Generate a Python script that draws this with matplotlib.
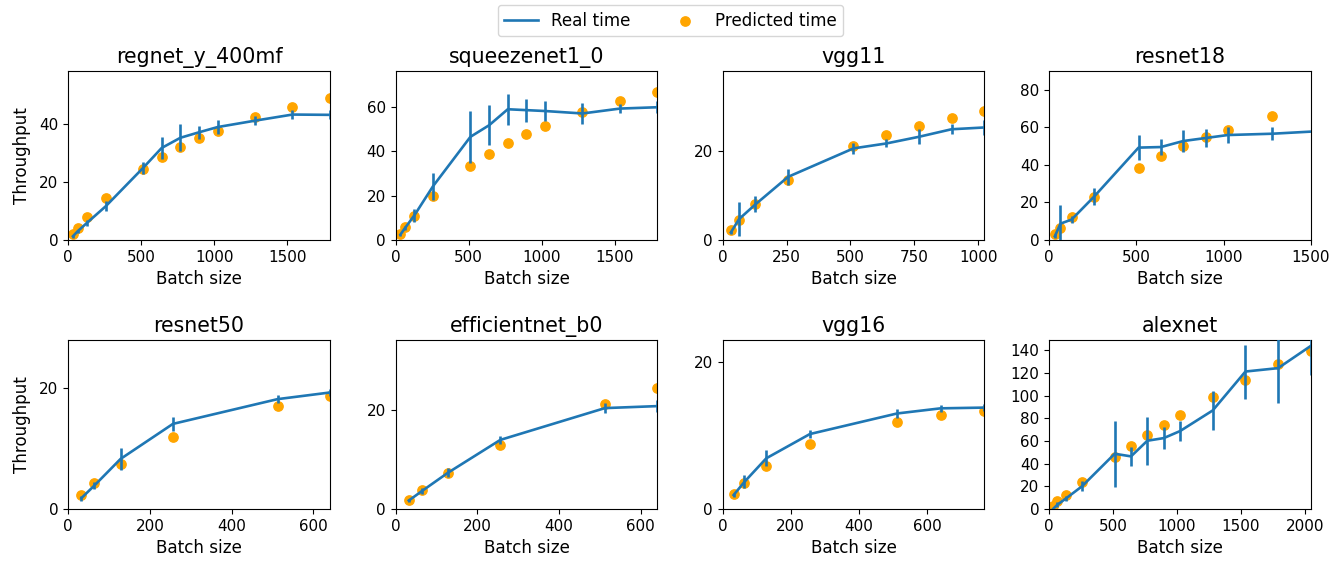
import numpy as np
import matplotlib
matplotlib.use("Agg")
import matplotlib.pyplot as plt
from matplotlib.lines import Line2D

# ---- data ----
models = ["regnet_y_400mf", "squeezenet1_0", "vgg11", "resnet18",
          "resnet50", "efficientnet_b0", "vgg16", "alexnet"]

regnet_x = [32, 64, 128, 256, 512, 640, 768, 896, 1024, 1280, 1536, 1792]
regnet_real = [1.3, 3.0, 5.9, 11.6, 24.8, 31.7, 35.2, 37.1, 38.9, 41.1, 43.2, 43.1]
regnet_err = [0.5, 0.5, 1.0, 1.7, 2.0, 3.7, 4.6, 2.3, 2.5, 1.6, 1.5, 1.6]
regnet_pred = [2.1, 4.1, 7.9, 14.5, 24.5, 28.5, 32.0, 35.0, 37.7, 42.3, 45.9, 48.9]

squeeze_x = [32, 64, 128, 256, 512, 640, 768, 896, 1024, 1280, 1536, 1792]
squeeze_real = [2.4, 5.4, 11.1, 24.2, 46.4, 51.6, 58.8, 58.4, 58.0, 56.9, 59.1, 59.7]
squeeze_err = [0.5, 1.0, 2.8, 6.0, 11.6, 9.0, 7.0, 5.2, 4.5, 4.7, 2.0, 2.8]
squeeze_pred = [2.7, 5.7, 10.8, 19.7, 33.5, 38.7, 43.5, 47.5, 51.2, 57.5, 62.6, 66.5]

vgg11_x = [32, 64, 128, 256, 512, 640, 768, 896, 1024]
vgg11_real = [1.7, 4.7, 8.0, 14.2, 20.6, 21.7, 23.2, 24.9, 25.3]
vgg11_err = [0.3, 3.8, 1.8, 1.8, 1.3, 0.9, 1.7, 1.1, 1.7]
vgg11_pred = [2.3, 4.4, 8.1, 13.6, 21.1, 23.6, 25.7, 27.4, 28.9]

resnet18_x = [32, 64, 128, 256, 512, 640, 768, 896, 1024, 1280, 1536]
resnet18_real = [2.0, 8.7, 10.9, 23.0, 49.2, 49.5, 52.7, 54.3, 55.9, 56.6, 57.9]
resnet18_err = [1.0, 9.8, 1.8, 4.6, 6.7, 4.2, 5.9, 4.7, 4.3, 3.6, 3.0]
resnet18_pred = [3.2, 6.4, 12.5, 22.8, 38.3, 44.5, 49.9, 54.9, 58.8, 65.9, np.nan]

resnet50_x = [32, 64, 128, 256, 512, 640]
resnet50_real = [1.8, 3.9, 8.3, 14.1, 18.2, 19.3]
resnet50_err = [0.4, 0.6, 1.8, 1.2, 0.7, 0.6]
resnet50_pred = [2.3, 4.3, 7.5, 12.0, 17.1, 18.7]

effnet_x = [32, 64, 128, 256, 512, 640]
effnet_real = [1.7, 3.6, 7.3, 13.9, 20.3, 20.7]
effnet_err = [0.3, 0.6, 0.9, 0.8, 1.0, 1.2]
effnet_pred = [1.9, 3.8, 7.3, 12.9, 21.1, 24.3]

vgg16_x = [32, 64, 128, 256, 512, 640, 768]
vgg16_real = [1.9, 3.7, 6.9, 10.2, 13.0, 13.7, 13.8]
vgg16_err = [0.3, 0.9, 1.1, 0.6, 0.55, 0.45, 0.45]
vgg16_pred = [2.0, 3.5, 5.9, 8.9, 11.9, 12.8, 13.4]

alexnet_x = [32, 64, 128, 256, 512, 640, 768, 896, 1024, 1280, 1536, 1792, 2048]
alexnet_real = [0.3, 3.8, 9.1, 20.0, 48.7, 46.4, 60.2, 62.5, 68.7, 86.9, 121.2, 124.2, 143.8]
alexnet_err = [1.0, 2.0, 2.0, 4.4, 29.3, 8.5, 21.0, 10.0, 9.1, 17.2, 23.8, 31.0, 25.5]
alexnet_pred = [2.3, 6.8, 12.6, 24.1, 45.5, 55.8, 65.2, 74.3, 82.5, 98.9, 113.9, 127.7, 139.7]

xs = [regnet_x, squeeze_x, vgg11_x, resnet18_x, resnet50_x, effnet_x, vgg16_x, alexnet_x]
reals = [regnet_real, squeeze_real, vgg11_real, resnet18_real, resnet50_real, effnet_real, vgg16_real, alexnet_real]
errs = [regnet_err, squeeze_err, vgg11_err, resnet18_err, resnet50_err, effnet_err, vgg16_err, alexnet_err]
preds = [regnet_pred, squeeze_pred, vgg11_pred, resnet18_pred, resnet50_pred, effnet_pred, vgg16_pred, alexnet_pred]

xlims = [1792, 1792, 1024, 1500, 640, 640, 768, 2048]
ylims = [58.2, 76, 38, 90, 28, 34, 23, 149]
yticks = [[0, 20, 40], [0, 20, 40, 60], [0, 20], [0, 20, 40, 60, 80],
          [0, 20], [0, 20], [0, 20], [0, 20, 40, 60, 80, 100, 120, 140]]
xticks = [[0, 500, 1000, 1500], [0, 500, 1000, 1500], [0, 250, 500, 750, 1000],
          [0, 500, 1000, 1500], [0, 200, 400, 600], [0, 200, 400, 600],
          [0, 200, 400, 600], [0, 500, 1000, 1500, 2000]]

# ---- layout ----
W, H = 1341, 563
fig = plt.figure(figsize=(W / 100, H / 100), dpi=100)
col_left = [68.3, 395.7, 722.7, 1049.3]
row_top = [71, 340]
aw, ah = 261.5, 169

blue = "#1f77b4"
orange = "orange"
sc_handle = None
for i in range(8):
    r, c = divmod(i, 4)
    ax = fig.add_axes([col_left[c] / W, 1 - (row_top[r] + ah) / H, aw / W, ah / H])
    sc = ax.scatter(xs[i], preds[i], s=45, color=orange, zorder=2)
    ax.errorbar(xs[i], reals[i], yerr=errs[i], color=blue, lw=1.9, elinewidth=1.9,
                zorder=3)
    ax.set_xlim(0, xlims[i])
    ax.set_ylim(0, ylims[i])
    ax.set_xticks(xticks[i])
    ax.set_yticks(yticks[i])
    ax.tick_params(labelsize=10.9)
    ax.set_title(models[i], fontsize=14.8)
    ax.set_xlabel("Batch size", fontsize=12.1)
    if c == 0:
        ax.set_ylabel("Throughput", fontsize=12.1, labelpad=6)
    if i == 0:
        sc_handle = sc

line_handle = Line2D([], [], color=blue, lw=1.9)
fig.legend([line_handle, sc_handle], ["Real time", "Predicted time"], loc="upper center",
           bbox_to_anchor=(0.5, 1.0), borderaxespad=0.3, ncol=2, fontsize=12.1,
           columnspacing=2.2, frameon=True)

fig.savefig("out.png", dpi=100)
